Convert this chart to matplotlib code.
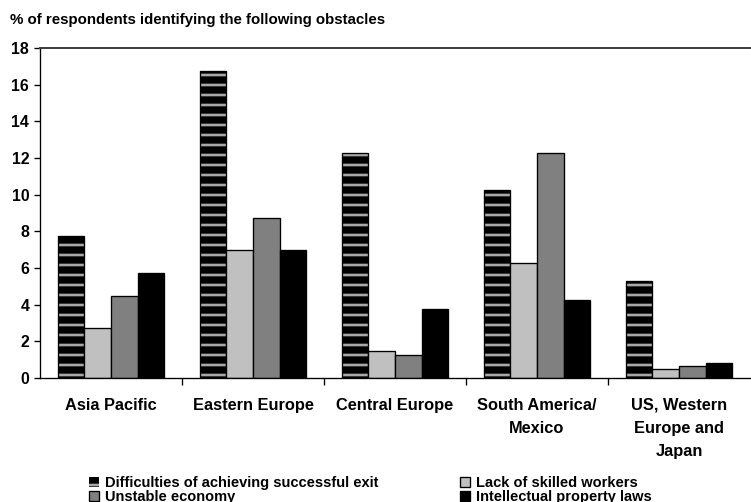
import numpy as np
import matplotlib
matplotlib.use('Agg')
import matplotlib.pyplot as plt

plt.rcParams['font.family'] = ['Liberation Sans', 'DejaVu Sans']
plt.rcParams['font.weight'] = 'bold'
plt.rcParams['hatch.linewidth'] = 1.6

regions = ['Asia Pacific', 'Eastern Europe', 'Central Europe',
           'South America/\nMexico', 'US, Western\nEurope and\nJapan']
exit_difficulty = [7.75, 16.75, 12.25, 10.25, 5.3]
skilled_workers = [2.75, 7.0, 1.5, 6.25, 0.5]
unstable_economy = [4.5, 8.75, 1.25, 12.25, 0.65]
ip_laws = [5.75, 7.0, 3.75, 4.25, 0.8]

series_names = ['Difficulties of achieving successful exit', 'Lack of skilled workers',
                'Unstable economy', 'Intellectual property laws']

fig = plt.figure(figsize=(751 / 120, 502 / 120), dpi=120)
ax = fig.add_axes([40 / 751, 1 - 378 / 502, 710 / 751, 330 / 502])

x = np.arange(len(regions))
w = 0.187

# striped bar: black fill, grey horizontal hatch, then black outline on top
h0 = ax.bar(x - 1.5 * w, exit_difficulty, w, color='black', edgecolor='#a8a8a8',
            hatch='--', linewidth=0, label=series_names[0])
ax.bar(x - 1.5 * w, exit_difficulty, w, facecolor='none', edgecolor='black', linewidth=0.8)
h1 = ax.bar(x - 0.5 * w, skilled_workers, w, color='#c0c0c0', edgecolor='black',
            linewidth=0.8, label=series_names[1])
h2 = ax.bar(x + 0.5 * w, unstable_economy, w, color='#808080', edgecolor='black',
            linewidth=0.8, label=series_names[2])
h3 = ax.bar(x + 1.5 * w, ip_laws, w, color='black', edgecolor='black',
            linewidth=0.8, label=series_names[3])

ax.set_xlim(-0.5, len(regions) - 0.5)
ax.set_ylim(0, 18)
ax.set_yticks(np.arange(0, 19, 2))
ax.tick_params(axis='y', labelsize=9.5, length=3.5, width=0.8, pad=3)

ax.set_xticks(x[:-1] + 0.5)
ax.set_xticklabels([])
ax.set_xticks(x, minor=True)
ax.set_xticklabels(regions, minor=True, fontsize=9.8, linespacing=1.68)
ax.tick_params(axis='x', which='minor', length=0, pad=12)
ax.tick_params(axis='x', which='major', length=4, width=0.8)

ax.spines['right'].set_visible(False)
ax.spines['top'].set_color('#404040')
ax.spines['top'].set_linewidth(1.2)
for s in ['left', 'bottom']:
    ax.spines[s].set_linewidth(0.8)

fig.text(10 / 751, 1 - 20 / 502, '% of respondents identifying the following obstacles',
         fontsize=9, fontweight='bold', va='center')

fig.legend([h0, h2, h1, h3], [series_names[0], series_names[2], series_names[1], series_names[3]],
           ncol=2, loc='center left', bbox_to_anchor=(82 / 751, 1 - 490 / 502),
           frameon=False, fontsize=8.8, handlelength=0.65, handleheight=0.65,
           handletextpad=0.4, columnspacing=5.6, labelspacing=0.0, borderpad=0)

fig.savefig('out.png', dpi=120)
